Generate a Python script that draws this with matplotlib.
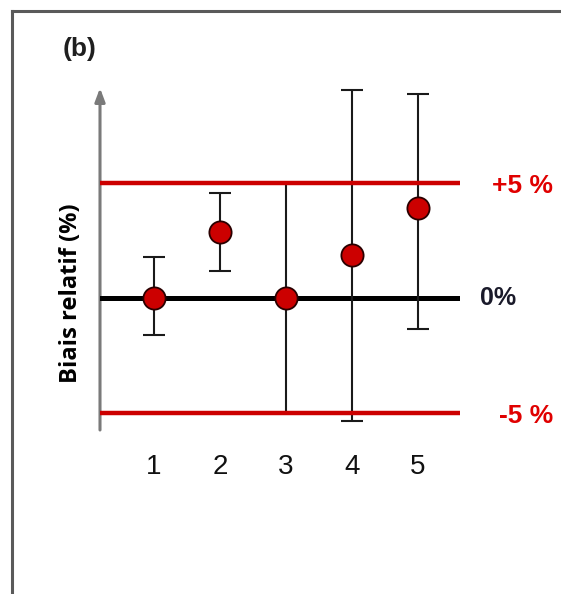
import matplotlib
matplotlib.use("Agg")
import matplotlib.pyplot as plt
from matplotlib.lines import Line2D
from matplotlib.transforms import offset_copy

# ---- data ----
categories = ["1", "2", "3", "4", "5"]
bias = [0.0, 2.86, 0.0, 1.87, 3.93]
err_low = [1.61, 1.67, 5.0, 7.22, 5.28]
err_high = [1.78, 1.70, 5.0, 7.17, 4.94]
limit_values = [5, 0, -5]
limit_labels = ["+5 %", "0%", "-5 %"]
ylabel = "Biais relatif (%)"
panel_label = "(b)"

W, H = 561, 594
DPI = 100
fig = plt.figure(figsize=(W / DPI, H / DPI), dpi=DPI)
fig.patch.set_facecolor("white")

# pixel layout of the plot area
px_left, px_right, px_top, px_bottom = 100, 460, 85, 430
ax = fig.add_axes([px_left / W, 1 - px_bottom / H,
                   (px_right - px_left) / W, (px_bottom - px_top) / H])
ax.set_facecolor("none")

x = list(range(1, len(categories) + 1))
ax.set_xlim(0.182, 5.636)
ax.set_ylim(-5.739, 9.26)

for s in ax.spines.values():
    s.set_visible(False)
ax.set_yticks([])
ax.set_xticks(x)
ax.set_xticklabels(categories, family="Liberation Sans", fontsize=20, color="#111111")
ax.tick_params(axis="x", length=0, pad=17)

RED = "#cc0000"
# horizontal reference lines
ax.axhline(0, color="black", lw=3.6, zorder=2)
ax.errorbar(x, bias, yerr=[err_low, err_high], fmt="none", ecolor="#1a1a1a",
            elinewidth=1.5, capsize=8, capthick=1.5, zorder=3, clip_on=False)
ax.axhline(5, color=RED, lw=3.2, zorder=4)
ax.axhline(-5, color=RED, lw=3.2, zorder=4)
ax.plot(x, bias, linestyle="none", marker="o", markersize=16,
        markerfacecolor=RED, markeredgecolor="#2a0000", markeredgewidth=1.3,
        zorder=5, clip_on=False)

# y axis arrow
ax.annotate("", xy=(0, 1 - 3 / (px_bottom - px_top)), xytext=(0, 0),
            xycoords="axes fraction", textcoords="axes fraction",
            arrowprops=dict(arrowstyle="-|>,head_length=0.8,head_width=0.3",
                            color="#7a7a7a", lw=2.2, shrinkA=0, shrinkB=0),
            zorder=1)

# labels at the right
label_colors = ["#e00000", "#1a1a2a", "#e00000"]
down = offset_copy(ax.transData, fig=fig, x=0, y=-3, units="dots")
for v, t, c in zip(limit_values, limit_labels, label_colors):
    if t == "0%":
        ax.text(5.94, v, t, ha="left", va="center", color=c, fontsize=18,
                family="Liberation Sans", fontweight="bold", clip_on=False)
    else:
        ax.text(7.05, v, t, ha="right", va="center", color=c, fontsize=19,
                family="Liberation Sans", fontweight="bold", clip_on=False,
                transform=down)

# y label
ylab = fig.text(71 / W, 1 - 293 / H, ylabel, rotation=90, ha="center", va="center",
                family="Open Sans", fontweight="bold", fontsize=17, color="black")
fig.canvas.draw()
bb = ylab.get_window_extent()
ylab.set_fontsize(17 * 180 / bb.height)

# panel label
fig.text(63 / W, 1 - 49 / H, panel_label, ha="left", va="center",
         family="Liberation Sans", fontweight="bold", fontsize=19, color="#1f1f1f")

# frame
fig.add_artist(Line2D([12 / W, 1], [1 - 10.5 / H, 1 - 10.5 / H],
                      transform=fig.transFigure, color="#5a5a5a", lw=2.2))
fig.add_artist(Line2D([12 / W, 12 / W], [0, 1 - 10.5 / H],
                      transform=fig.transFigure, color="#5a5a5a", lw=2.2))

fig.savefig("out.png", dpi=DPI, facecolor="white")
